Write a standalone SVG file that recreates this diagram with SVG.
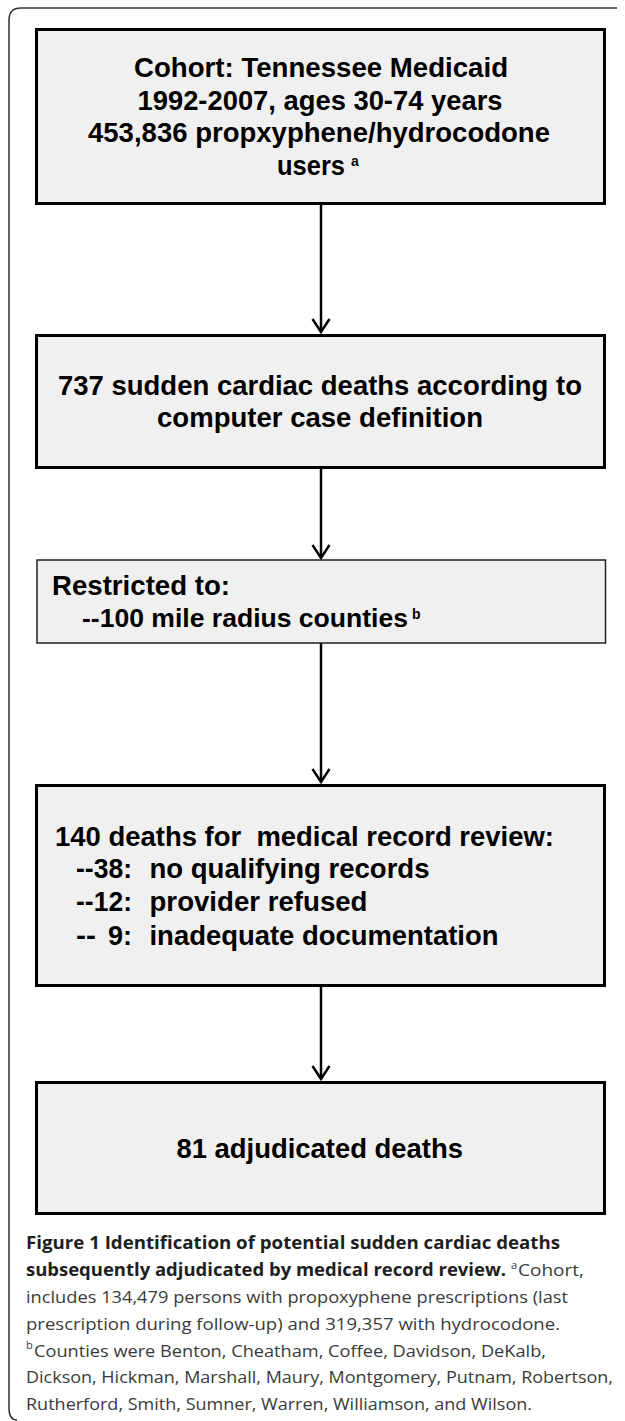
<svg xmlns="http://www.w3.org/2000/svg" width="625" height="1421" viewBox="0 0 625 1421">
<style>
.box{fill:#f0f0f0;stroke:#000;stroke-width:3}
.thin{fill:#f0f0f0;stroke:#222;stroke-width:1.5}
.bt{font-family:"Liberation Sans",Arial,sans-serif;font-weight:bold;font-size:28px;fill:#000;white-space:pre}
.sup{font-family:"Liberation Sans",Arial,sans-serif;font-weight:bold;font-size:14px;fill:#000}
.cap{font-family:"Open Sans","Noto Sans",sans-serif;font-size:17px;fill:#3a3a3a;white-space:pre}
.capb{font-family:"Open Sans","Noto Sans",sans-serif;font-size:17px;font-weight:bold;fill:#1e1e1e}
.capsup{font-family:"Open Sans","Noto Sans",sans-serif;font-size:11px;fill:#3a3a3a}
.conn{stroke:#000;stroke-width:2.5;fill:none}
</style>
<path d="M617,8 H21 Q9,8 9,20 V1408 Q9,1420 17,1420" fill="none" stroke="#333" stroke-width="1.5"/>
<g id="connectors">
<path class="conn" d="M321,205 V332"/>
<path class="conn" d="M312.5,319 L321,332 L329.5,319"/>
<path class="conn" d="M321,469 V558"/>
<path class="conn" d="M312.5,545 L321,558 L329.5,545"/>
<path class="conn" d="M321,643 V782"/>
<path class="conn" d="M312.5,769 L321,782 L329.5,769"/>
<path class="conn" d="M321,987 V1079"/>
<path class="conn" d="M312.5,1066 L321,1079 L329.5,1066"/>
</g>
<g id="node1">
<rect class="box" x="36.5" y="29.5" width="568" height="174"/>
<text class="bt" x="134" y="77" textLength="374" lengthAdjust="spacingAndGlyphs">Cohort: Tennessee Medicaid</text>
<text class="bt" x="137.5" y="110" textLength="365" lengthAdjust="spacingAndGlyphs">1992-2007, ages 30-74 years</text>
<text class="bt" x="88" y="142" textLength="462" lengthAdjust="spacingAndGlyphs">453,836 propxyphene/hydrocodone</text>
<text class="bt" x="277" y="175" textLength="68" lengthAdjust="spacingAndGlyphs">users</text>
<text class="sup" x="351" y="166">a</text>
</g>
<g id="node2">
<rect class="box" x="36.5" y="335.5" width="568" height="132"/>
<text class="bt" x="58" y="395" textLength="524" lengthAdjust="spacingAndGlyphs">737 sudden cardiac deaths according to</text>
<text class="bt" x="157" y="427" textLength="326" lengthAdjust="spacingAndGlyphs">computer case definition</text>
</g>
<g id="node3">
<rect class="thin" x="37" y="560" width="568.5" height="83"/>
<text class="bt" x="52" y="595" textLength="178" lengthAdjust="spacingAndGlyphs">Restricted to:</text>
<text class="bt" x="82" y="627" style="font-size:26.5px" textLength="326" lengthAdjust="spacingAndGlyphs">--100 mile radius counties</text>
<text class="sup" x="412" y="619">b</text>
</g>
<g id="node4">
<rect class="box" x="36.5" y="785.5" width="568" height="200"/>
<text class="bt" x="55" y="846" textLength="499" lengthAdjust="spacingAndGlyphs">140 deaths for  medical record review:</text>
<text class="bt" x="76" y="878" textLength="56" lengthAdjust="spacingAndGlyphs">--38:</text>
<text class="bt" x="149.5" y="878" textLength="280" lengthAdjust="spacingAndGlyphs">no qualifying records</text>
<text class="bt" x="76" y="911" textLength="56" lengthAdjust="spacingAndGlyphs">--12:</text>
<text class="bt" x="149.5" y="911" textLength="218" lengthAdjust="spacingAndGlyphs">provider refused</text>
<text class="bt" x="76" y="945" textLength="20" lengthAdjust="spacingAndGlyphs">--</text>
<text class="bt" x="108" y="945" textLength="24" lengthAdjust="spacingAndGlyphs">9:</text>
<text class="bt" x="149.5" y="945" textLength="349" lengthAdjust="spacingAndGlyphs">inadequate documentation</text>
</g>
<g id="node5">
<rect class="box" x="36.5" y="1082.5" width="568" height="131"/>
<text class="bt" x="176.5" y="1158" textLength="286.5" lengthAdjust="spacingAndGlyphs">81 adjudicated deaths</text>
</g>
<g id="caption">
<text class="capb" x="26" y="1249" textLength="534" lengthAdjust="spacingAndGlyphs">Figure 1 Identification of potential sudden cardiac deaths</text>
<text class="capb" x="26" y="1276" textLength="480" lengthAdjust="spacingAndGlyphs">subsequently adjudicated by medical record review.</text>
<text class="capsup" x="511" y="1269">a</text>
<text class="cap" x="518" y="1276" textLength="66" lengthAdjust="spacingAndGlyphs">Cohort,</text>
<text class="cap" x="26" y="1303" textLength="542" lengthAdjust="spacingAndGlyphs">includes 134,479 persons with propoxyphene prescriptions (last</text>
<text class="cap" x="26" y="1330" textLength="534" lengthAdjust="spacingAndGlyphs">prescription during follow-up) and 319,357 with hydrocodone.</text>
<text class="capsup" x="26" y="1349">b</text>
<text class="cap" x="34" y="1357" textLength="512" lengthAdjust="spacingAndGlyphs">Counties were Benton, Cheatham, Coffee, Davidson, DeKalb,</text>
<text class="cap" x="26" y="1383" textLength="587" lengthAdjust="spacingAndGlyphs">Dickson, Hickman, Marshall, Maury, Montgomery, Putnam, Robertson,</text>
<text class="cap" x="26" y="1410" textLength="506" lengthAdjust="spacingAndGlyphs">Rutherford, Smith, Sumner, Warren, Williamson, and Wilson.</text>
</g>
</svg>
